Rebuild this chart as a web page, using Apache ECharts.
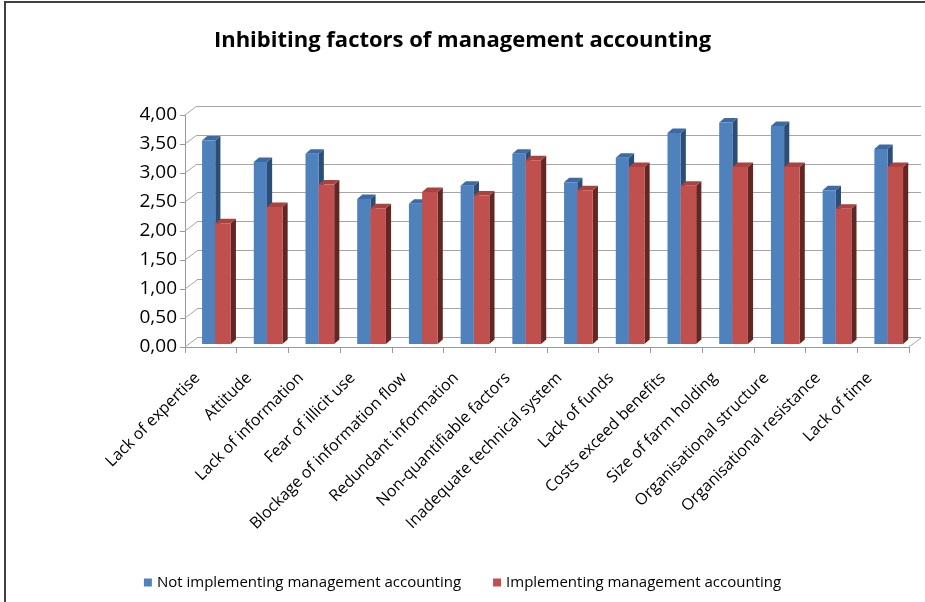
<!DOCTYPE html>
<html>
<head>
<meta charset="utf-8">
<script src="https://cdn.jsdelivr.net/npm/echarts@6/dist/echarts.min.js"></script>
<style>html,body{margin:0;padding:0;background:#fff}#c{width:925px;height:602px}</style>
</head>
<body>
<div id="c"></div>
<script>
var categories = ["Lack of expertise","Attitude","Lack of information","Fear of illicit use","Blockage of information flow","Redundant information","Non-quantifiable factors","Inadequate technical system","Lack of funds","Costs exceed benefits","Size of farm holding","Organisational structure","Organisational resistance","Lack of time"];
var notImplementing = [3.51,3.14,3.28,2.50,2.42,2.73,3.28,2.79,3.21,3.64,3.82,3.76,2.65,3.36];
var implementing = [2.08,2.36,2.75,2.34,2.62,2.56,3.17,2.65,3.05,2.73,3.05,3.05,2.33,3.05];
var yTicks = [0,0.5,1,1.5,2,2.5,3,3.5,4];
var seriesNames = ["Not implementing management accounting","Implementing management accounting"];

var FONT = "Open Sans";
var chart = echarts.init(document.getElementById('c'), null, {renderer:'canvas'});

function bar3d(which){
  return function(params, api){
    var idx = api.value(0), v = api.value(1);
    var band = api.size([1,0])[0];
    var base = api.coord([idx,0]);
    var top = api.coord([idx,v]);
    var cx = base[0];
    var y0 = base[1]-3, y1 = top[1]-3;
    var dx = band*0.1, dy = 4.5;
    var xl, xr, front, side, topc;
    if(which===0){xl = cx-band*0.17; xr = cx+band*0.085; front='#4f81bd'; side='#2c4d75'; topc='#3d6aa5';}
    else {xl = cx+band*0.085; xr = cx+band*0.385; front='#c0504d'; side='#632623'; topc='#a84340';}
    return {type:'group', children:[
      {type:'polygon', shape:{points:[[xr,y1],[xr+dx,y1-dy],[xr+dx,y0-dy],[xr,y0]]}, style:{fill:side}},
      {type:'polygon', shape:{points:[[xl,y1],[xl+dx,y1-dy],[xr+dx,y1-dy],[xr,y1]]}, style:{fill:topc}},
      {type:'rect', shape:{x:xl,y:y1,width:xr-xl,height:y0-y1}, style:{fill:front}}
    ]};
  };
}

var option = {
  backgroundColor:'#fff',
  animation:false,
  title:{text:'Inhibiting factors of management accounting', left:'center', top:25,
    textStyle:{fontFamily:FONT, fontSize:22, fontWeight:'bold', color:'#000'}},
  legend:{data:seriesNames, left:'center', top:570, icon:'rect', itemWidth:8, itemHeight:8, itemGap:32,
    textStyle:{fontFamily:FONT, fontSize:15, color:'#000'}},
  graphic:[{type:'rect', shape:{x:5,y:2,width:940,height:620}, style:{fill:'none', stroke:'#404040', lineWidth:2}, silent:true}],
  grid:[
    {left:185, right:16, top:115, bottom:255},
    {left:197, right:4, top:106, bottom:265}
  ],
  xAxis:[
    {type:'category', gridIndex:0, data:categories, boundaryGap:true,
      axisLine:{lineStyle:{color:'#999'}},
      axisTick:{show:true, interval:0, length:6, lineStyle:{color:'#999'}},
      axisLabel:{interval:0, rotate:45, margin:15, padding:[0,19,0,0], fontFamily:FONT, fontSize:16, color:'#000'}},
    {type:'value', gridIndex:1, min:0, max:1, show:false}
  ],
  yAxis:[
    {type:'value', gridIndex:0, min:0, max:4, interval:0.5,
      axisLine:{show:true, lineStyle:{color:'#999'}},
      axisTick:{show:true, length:5, lineStyle:{color:'#999'}},
      splitLine:{show:false},
      axisLabel:{margin:8, fontFamily:FONT, fontSize:19, color:'#000',
        formatter:function(v){return v.toFixed(2).replace('.',',');}}},
    {type:'value', gridIndex:1, min:0, max:4, interval:0.5,
      axisLine:{show:false}, axisTick:{show:false}, axisLabel:{show:false},
      splitLine:{show:true, lineStyle:{color:'#a6a6a6', width:1}}}
  ],
  series:[
    {type:'custom', name:'diag', xAxisIndex:0, yAxisIndex:0, silent:true, z:1,
      data: yTicks.map(function(t){return [0,t];}),
      renderItem:function(params, api){
        var cs = params.coordSys;
        var y = api.coord([0, api.value(1)])[1];
        var kids = [{type:'line', shape:{x1:cs.x, y1:y, x2:cs.x+12, y2:y-9}, style:{stroke:'#a6a6a6', lineWidth:1}}];
        if(api.value(1)===0){
          kids.push({type:'line', shape:{x1:cs.x+cs.width, y1:y, x2:cs.x+cs.width+12, y2:y-9}, style:{stroke:'#a6a6a6', lineWidth:1}});
        }
        return {type:'group', children:kids};
      }},
    {type:'custom', name:seriesNames[0], xAxisIndex:0, yAxisIndex:0, z:3, itemStyle:{color:'#4f81bd'},
      data: notImplementing.map(function(v,i){return [i,v];}), renderItem: bar3d(0)},
    {type:'custom', name:seriesNames[1], xAxisIndex:0, yAxisIndex:0, z:4, itemStyle:{color:'#c0504d'},
      data: implementing.map(function(v,i){return [i,v];}), renderItem: bar3d(1)}
  ]
};
chart.setOption(option);
</script>
</body>
</html>
